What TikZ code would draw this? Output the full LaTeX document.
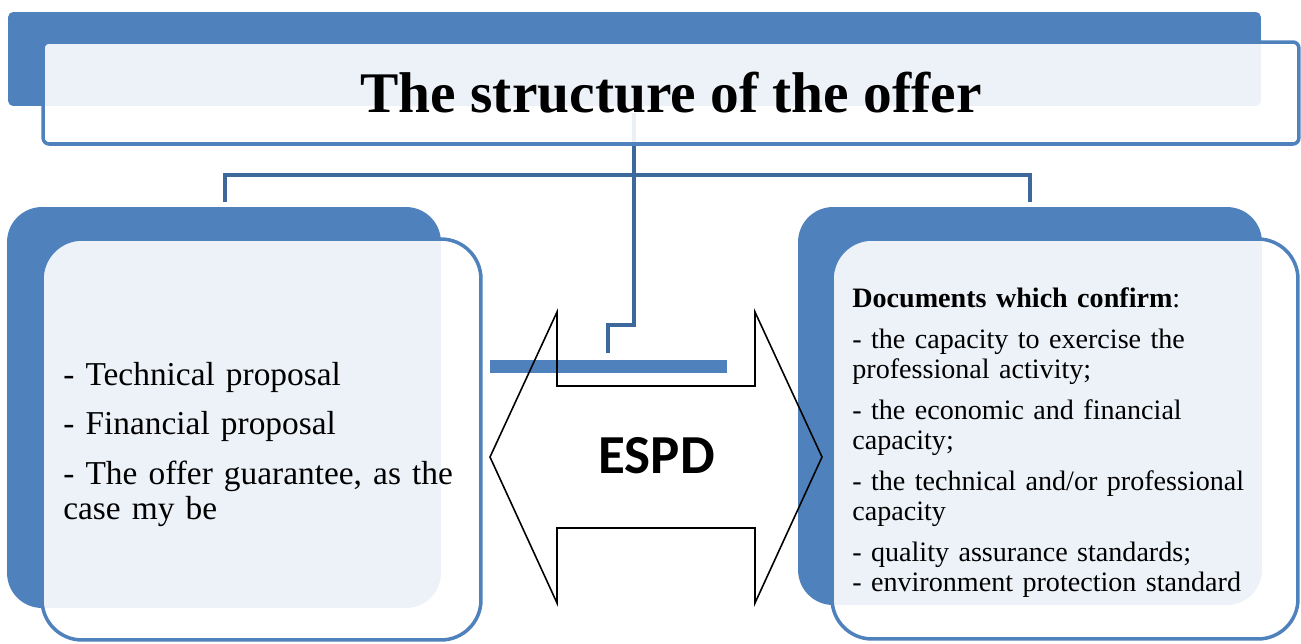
\documentclass[tikz,border=0pt]{standalone}
\usepackage{fontspec}
\setmainfont{Liberation Serif}
\newfontfamily\espdfont{Carlito}
\definecolor{accent}{RGB}{79,129,189}
\definecolor{linkblue}{RGB}{61,104,155}
\tikzset{
    back/.style={
    rectangle,rounded corners=0.7cm,fill=accent,inner sep=0pt
    },
    panel/.style={
    rectangle,rounded corners=0.8cm,draw=accent,line width=2pt,fill=white,fill opacity=0.9,text opacity=1,inner sep=0pt
    },
    link/.style={
    draw=linkblue,line width=2.8pt
    },
    bar/.style={
    draw=accent,line width=7.4pt
    },
    espd/.style={
    draw=black,line width=0.9pt,line join=miter
    },
    doc/.style={
    anchor=base west,inner sep=0pt,align=left
    },
}

\begin{document}
\begin{tikzpicture}[x=0.02cm, y=-0.02cm]
   \useasboundingbox (0,0) rectangle (1301,643);
   \node[back,rounded corners=0.1cm,minimum width=25.06cm,minimum height=1.88cm] (T0) at (634.5,59) {};
   \node[back,minimum width=8.68cm,minimum height=8.02cm] (L0) at (224,407.5) {};
   \node[back,minimum width=9.28cm,minimum height=7.96cm] (R0) at (1030,406) {};

   \coordinate (top) at (634,113);
   \coordinate (hub) at (634,175);
   \coordinate (knee) at (634,325);
   \coordinate (stub) at (608,353);
   \coordinate (ldrop) at (225,202);
   \coordinate (rdrop) at (1030,202);
   \coordinate (barL) at (490,366.5);
   \coordinate (barR) at (727,366.5);
   \draw[link] (ldrop) |- (hub) -| (rdrop);
   \draw[link] (top) -- (knee) -| (stub);
   \draw[bar] (barL) -- (barR);

   \node[panel,rounded corners=0.12cm,minimum width=25.12cm,minimum height=2.04cm,font=\fontsize{32.7}{40}\selectfont\bfseries] (offer) at (671,93) {The structure of the offer};
   \node[panel,minimum width=8.78cm,minimum height=8.02cm] (L1) at (261.5,439.5) {};
   \node[panel,minimum width=9.32cm,minimum height=8cm] (R1) at (1065,439) {};

   \node[doc,text width=9cm,font=\fontsize{19}{19.9}\selectfont] (parts) at (63,385) {- Technical proposal\\[8.5pt] - Financial proposal\\[8.5pt] - The offer guarantee, as the\\ case my be};
   \node[doc,text width=8.6cm,font=\fontsize{16}{17.1}\selectfont] (confirm) at (852,307) {\textbf{Documents which confirm}:\\[6.3pt] - the capacity to exercise the\\ professional activity;\\[6.3pt] - the economic and financial\\ capacity;\\[6.3pt] - the technical and/or professional\\ capacity\\[6.3pt] - quality assurance standards;\\ - environment protection standard};

   \node[inner sep=0pt,font=\espdfont\bfseries\fontsize{31.3}{36}\selectfont] (E) at (656.5,455.5) {ESPD};
   \draw[espd] (490,457) -- (557,312) -- (557,386) -- (755,386) -- (755,312) -- (822,457) -- (755,603) -- (755,528) -- (557,528) -- (557,603) -- cycle;
\end{tikzpicture}
\end{document}
